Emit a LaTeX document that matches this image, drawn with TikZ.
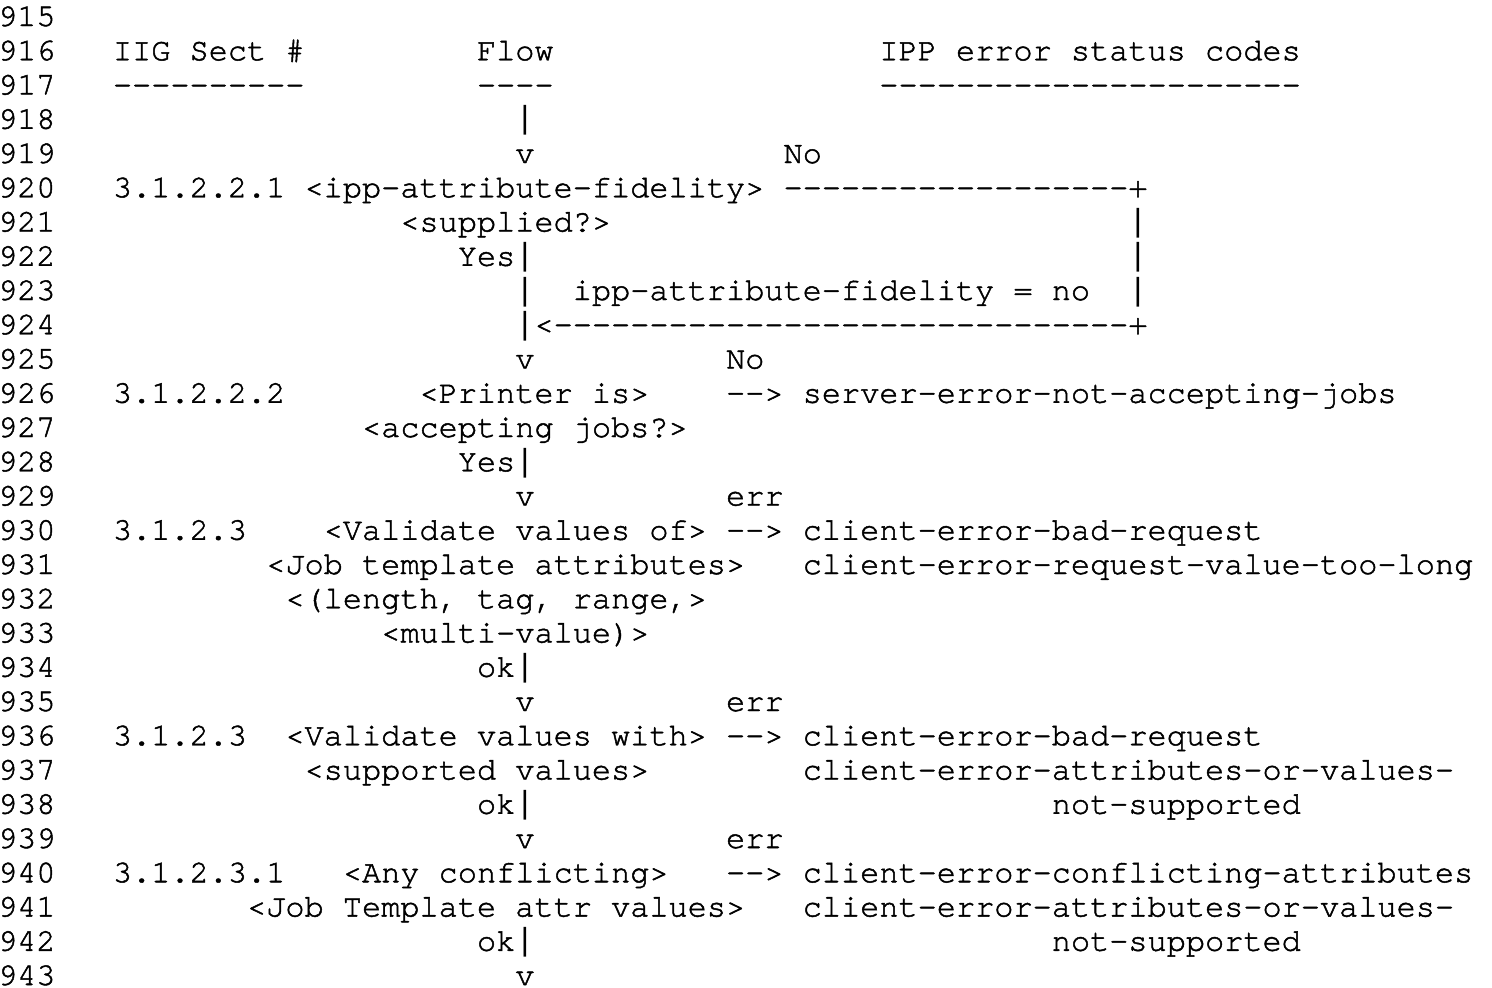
\documentclass[tikz,border=0pt]{standalone}
\usepackage{fontspec}
\setmonofont{TeX Gyre Cursor}[Ligatures={NoCommon,NoRequired,NoContextual},FakeBold=1.5]
\newfontfamily\barfont{Liberation Mono}
\newcommand\vb{{\barfont|}}
\begin{document}
\begin{tikzpicture}[x=1pt,y=-1pt,
  txt/.style={anchor=base west,inner sep=0pt,outer sep=0pt,
    font=\ttfamily\fontsize{31.93}{34.3}\selectfont}]
\useasboundingbox (0,0) rectangle (1492,988);
\newcommand\putcell[4]{\node[txt] (#1) at ({#2*19.16-2},{26+34.25*#3}) {#4};}
% line numbers
\foreach \k in {0,...,28}{
  \pgfmathtruncatemacro{\num}{915+\k}
  \node[txt] (ln\num) at (-2,{26+34.25*\k}) {\num};
}
% line 916-917
\putcell{hsect}{6}{1}{IIG Sect \#}
\putcell{hflow}{25}{1}{Flow}
\putcell{hipp}{46}{1}{IPP error status codes}
\putcell{usect}{6}{2}{----------}
\putcell{uflow}{25}{2}{----}
\putcell{uipp}{46}{2}{----------------------}
% 918-924
\putcell{bar918}{27}{3}{\vb}
\putcell{v919}{27}{4}{v}
\putcell{no919}{41}{4}{No}
\putcell{s920}{6}{5}{3.1.2.2.1}
\putcell{q920}{16}{5}{<ipp-attribute-fidelity>}
\putcell{a920}{41}{5}{------------------+}
\putcell{q921}{21}{6}{<supplied?>}
\putcell{r921}{59}{6}{\vb}
\putcell{y922}{24}{7}{Yes\vb}
\putcell{r922}{59}{7}{\vb}
\putcell{b923}{27}{8}{\vb}
\putcell{f923}{30}{8}{ipp-attribute-fidelity = no}
\putcell{r923}{59}{8}{\vb}
\putcell{a924}{27}{9}{\vb<------------------------------+}
% 925-929
\putcell{v925}{27}{10}{v}
\putcell{no925}{38}{10}{No}
\putcell{s926}{6}{11}{3.1.2.2.2}
\putcell{q926}{22}{11}{<Printer is>}
\putcell{e926}{38}{11}{--> server-error-not-accepting-jobs}
\putcell{q927}{19}{12}{<accepting jobs?>}
\putcell{y928}{24}{13}{Yes\vb}
\putcell{v929}{27}{14}{v}
\putcell{err929}{38}{14}{err}
% 930-935
\putcell{s930}{6}{15}{3.1.2.3}
\putcell{q930}{17}{15}{<Validate values of>}
\putcell{e930}{38}{15}{--> client-error-bad-request}
\putcell{q931}{14}{16}{<Job template attributes>}
\putcell{e931}{42}{16}{client-error-request-value-too-long}
\putcell{q932}{15}{17}{<(length, tag, range,>}
\putcell{q933}{20}{18}{<multi-value)>}
\putcell{ok934}{25}{19}{ok\vb}
\putcell{v935}{27}{20}{v}
\putcell{err935}{38}{20}{err}
% 936-939
\putcell{s936}{6}{21}{3.1.2.3}
\putcell{q936}{15}{21}{<Validate values with>}
\putcell{e936}{38}{21}{--> client-error-bad-request}
\putcell{q937}{16}{22}{<supported values>}
\putcell{e937}{42}{22}{client-error-attributes-or-values-}
\putcell{ok938}{25}{23}{ok\vb}
\putcell{e938}{55}{23}{not-supported}
\putcell{v939}{27}{24}{v}
\putcell{err939}{38}{24}{err}
% 940-943
\putcell{s940}{6}{25}{3.1.2.3.1}
\putcell{q940}{18}{25}{<Any conflicting>}
\putcell{e940}{38}{25}{--> client-error-conflicting-attributes}
\putcell{q941}{13}{26}{<Job Template attr values>}
\putcell{e941}{42}{26}{client-error-attributes-or-values-}
\putcell{ok942}{25}{27}{ok\vb}
\putcell{e942}{55}{27}{not-supported}
\putcell{v943}{27}{28}{v}
\end{tikzpicture}
\end{document}
